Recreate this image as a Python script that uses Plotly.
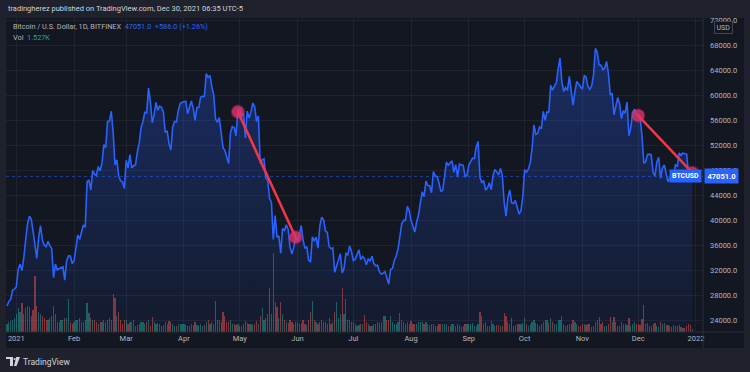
import pandas as pd
import plotly.graph_objects as go

# ---------------- data (daily close, BTC/USD Bitfinex) ----------------
close_dec2020 = [26280, 27040, 27370, 28860, 28990]
close_jan = [29370, 32180, 33000, 31990, 33990, 36820, 39370, 40680, 40240, 38230, 35540, 33920, 37330, 39150, 36830,
             36030, 35800, 36640, 35920, 35490, 30830, 32990, 32090, 32290, 32370, 32570, 30430, 33460, 34320, 34290, 33110]
close_feb = [33540, 35510, 37670, 36950, 38290, 39260, 38900, 46200, 46480, 44870, 47970, 47410, 47190, 48650, 47930,
             49170, 52150, 51680, 55890, 55920, 57490, 54090, 48880, 49710, 47090, 46340, 46190, 45140]
close_mar = [49630, 48380, 50540, 48420, 48760, 48880, 50970, 52380, 54880, 55850, 57330, 57230, 61190, 59000, 55640,
             56920, 58920, 57650, 58320, 58140, 57350, 54090, 54340, 52300, 51290, 55030, 55860, 55780, 57630, 58730, 58920]
close_apr = [58980, 59100, 57090, 58210, 59130, 57990, 56020, 58090, 58100, 59780, 59900, 59880, 63530, 62910, 63220,
             61370, 60110, 56250, 55720, 56480, 53810, 51700, 51190, 50110, 49100, 54060, 55040, 54840, 53560, 57750]
close_may = [57830, 56630, 57220, 53210, 57510, 56400, 57350, 58810, 58230, 55860, 56710, 49150, 49720, 49880, 46760,
             46430, 43540, 42910, 36960, 40780, 37300, 37530, 34770, 38700, 38400, 39290, 38530, 35680, 34630, 35680, 37340]
close_jun = [36690, 37570, 39190, 36870, 35520, 35800, 33580, 33400, 37390, 36690, 37340, 35550, 39100, 40520, 40140,
             38350, 38090, 35820, 35480, 35600, 31680, 32510, 33680, 34660, 31590, 32280, 34700, 34490, 35910, 35040]
close_jul = [33570, 33800, 34670, 35290, 33720, 34230, 33860, 32880, 33810, 33520, 34260, 33090, 32730, 32820, 31780,
             31420, 31520, 31780, 30840, 29790, 32140, 32300, 33590, 34290, 35390, 37270, 39460, 40030, 40010, 42240, 41630]
close_aug = [39970, 39200, 38150, 39750, 40870, 42820, 44610, 43790, 46290, 45600, 45560, 44430, 47830, 47100, 47050,
             45990, 44690, 44800, 46720, 49340, 48870, 49280, 49540, 47700, 48940, 46960, 49060, 48900, 48830, 47050, 47160]
close_sep = [48850, 49300, 49940, 49940, 51770, 52660, 46860, 46080, 46400, 44850, 45170, 46030, 44950, 47100, 48150,
             47780, 47300, 48310, 47260, 42970, 40690, 43570, 44900, 42840, 42720, 43210, 42240, 41030, 41520, 43790]
close_oct = [48140, 47700, 48200, 49220, 51470, 55320, 53800, 53930, 54960, 54690, 57480, 56040, 57400, 57370, 61670,
             60880, 61530, 62010, 64280, 66000, 62210, 60690, 61290, 60850, 63080, 60330, 58460, 60590, 62280, 61880, 61320]
close_nov = [61000, 63230, 62940, 61450, 61010, 61540, 63310, 67550, 66940, 64930, 64860, 64160, 64380, 65470, 63560,
             60110, 60370, 56900, 58120, 59700, 58700, 56290, 57570, 57180, 58960, 53590, 54810, 57290, 57810, 56990]
close_dec = [56950, 56500, 53600, 49150, 49400, 50580, 50620, 50500, 47670, 47160, 49330, 50100, 46740, 48380, 48900,
             47640, 46200, 46850, 46700, 46900, 48970, 48600, 50820, 50430, 50810, 50690, 50640, 47540, 46465, 47051]

# daily volume (thousand BTC)
vol_dec2020 = [4, 5, 5.5, 6, 7]
vol_jan = [9, 12, 10, 14.5, 9, 12, 13, 12.5, 8, 11, 28, 13, 10, 9, 8, 7, 6, 6, 7, 8, 13, 9, 5, 5, 6, 6, 7, 7, 16.5, 5, 4]
vol_feb = [5, 6, 6, 7, 5, 5, 6, 14.5, 9.5, 7, 6, 6, 5, 4, 5, 5, 6, 5, 6, 7, 6, 19, 17, 8, 10, 6, 4, 6]
vol_mar = [6, 4, 5, 5, 6, 3, 3.5, 4, 5, 5, 4, 5, 6, 3, 7.5, 5, 4, 4.5, 4, 3, 3.5, 5, 4, 5.5, 5, 4, 3, 3, 4, 4, 4]
vol_apr = [4, 3.5, 3, 3, 4, 3.5, 5, 3.5, 3, 4, 3, 3.5, 5, 6, 4, 5, 4, 15.5, 6, 6, 5, 10, 8, 5, 5, 6, 4, 4, 3.5, 4]
vol_may = [3, 3, 4, 5.5, 4.5, 4, 4, 3.5, 4, 5.5, 4, 8, 12, 6, 7, 9, 22, 9, 39.5, 15, 12.5, 7, 15, 9, 6, 5, 4.5, 6, 5, 4, 5]
vol_jun = [5, 4, 4.5, 6, 4, 3.5, 6, 10, 15.5, 6, 5, 4, 5, 6, 5, 5, 4, 7, 4, 5, 10, 15, 7, 9, 22, 9, 16.5, 6, 6, 5]
vol_jul = [5, 4, 3, 3.5, 4, 4, 8.5, 5, 4, 3, 3, 4, 4, 5, 4.5, 5, 8, 8, 6, 6, 8, 5, 4, 4, 5, 9.5, 6, 5, 4, 5, 4]
vol_aug = [5.5, 4, 4, 4, 5, 5, 5, 4, 5, 4, 3.5, 4, 4, 3, 3, 4, 4, 4, 4, 4, 3, 3, 4, 4, 3, 4, 3.5, 2.5, 3, 4, 4]
vol_sep = [4, 4, 4.5, 3, 3, 4, 10, 8, 4, 5, 3, 3, 5.5, 4, 3, 3.5, 3.5, 3, 3, 9.5, 8, 5, 4, 7, 3, 3.5, 4, 4, 4, 4.5]
vol_oct = [7, 4, 3, 4, 5, 6, 4.5, 4, 3, 4, 5, 6, 6, 4.5, 7, 5, 4, 4, 6, 6, 8, 4, 3, 3.5, 4, 4, 6, 5, 4, 3, 3]
vol_nov = [4, 4, 3.5, 4, 4, 2.5, 3, 5, 6, 7.5, 4, 5, 3, 3, 4, 7.5, 5, 7.5, 5, 3, 3, 5, 4, 4, 3.5, 7, 3, 4, 5, 4]
vol_dec = [4, 3.5, 6.5, 13.5, 4, 4.5, 3, 3, 4, 4.5, 3, 2.5, 5, 4, 4.5, 3.5, 3.5, 3, 2.5, 3.5, 3, 3, 3.5, 2.5, 2, 2,
           3, 4, 3.5, 1.527]

# trend-line drawing (two segments)
trend_dates = ["2021-04-30", "2021-05-31", "2021-12-01", "2021-12-30"]
trend_prices = [57400, 37300, 56800, 47650]

last_price = 47051.0
price_ticks = list(range(24000, 72001, 4000))
time_tick_dates = ["2021-01-01", "2021-02-01", "2021-03-01", "2021-04-01", "2021-05-01", "2021-06-01", "2021-07-01",
                   "2021-08-01", "2021-09-01", "2021-10-01", "2021-11-01", "2021-12-01", "2022-01-01"]
time_tick_labels = ["2021", "Feb", "Mar", "Apr", "May", "Jun", "Jul", "Aug", "Sep", "Oct", "Nov", "Dec", "2022"]

close = (close_dec2020 + close_jan + close_feb + close_mar + close_apr + close_may + close_jun + close_jul +
         close_aug + close_sep + close_oct + close_nov + close_dec)
volume = (vol_dec2020 + vol_jan + vol_feb + vol_mar + vol_apr + vol_may + vol_jun + vol_jul + vol_aug + vol_sep +
          vol_oct + vol_nov + vol_dec)
dates = pd.date_range("2020-12-27", periods=len(close), freq="D")
assert len(volume) == len(close)

UP = "rgba(38,166,154,0.5)"
DN = "rgba(239,83,80,0.5)"
vol_colors = [UP if i == 0 or close[i] >= close[i - 1] else DN for i in range(len(close))]

# ---------------- layout helpers (pixel -> paper) ----------------
W, H = 750, 372
PL, PR, PT, PB = 6, 703, 18, 332


def px(x):
    return (x - PL) / (PR - PL)


def py(y):
    return (PB - y) / (PB - PT)


FONT = "Roboto, 'Open Sans', sans-serif"
TXT = "#b2b5be"
BLUE = "#2962ff"

fig = go.Figure()

fig.add_trace(go.Bar(x=dates, y=volume, marker=dict(color=vol_colors, line=dict(width=0)),
                     width=0.65 * 86400000, yaxis="y2", hoverinfo="skip"))

fig.add_trace(go.Scatter(
    x=dates, y=close, mode="lines", line=dict(color=BLUE, width=1.6),
    fill="tozeroy",
    fillgradient=dict(type="vertical", start=22000, stop=68000,
                      colorscale=[[0, "rgba(41,98,255,0.05)"], [1, "rgba(41,98,255,0.30)"]]),
    hoverinfo="skip"))

fig.add_trace(go.Scatter(
    x=[trend_dates[0], trend_dates[1], None, trend_dates[2], trend_dates[3]],
    y=[trend_prices[0], trend_prices[1], None, trend_prices[2], trend_prices[3]],
    mode="lines", line=dict(color="#f23645", width=2.6), hoverinfo="skip"))
fig.add_trace(go.Scatter(
    x=trend_dates, y=trend_prices, mode="markers",
    marker=dict(size=12, color="rgba(226,50,105,0.8)", line=dict(width=2.5, color="rgba(226,50,105,0.3)")),
    hoverinfo="skip"))

x0 = pd.Timestamp("2020-12-27") - pd.Timedelta(days=0.55)
x1 = pd.Timestamp("2020-12-27") + pd.Timedelta(days=373.8)

shapes = [
    # chart panel
    dict(type="rect", xref="paper", yref="paper", x0=px(6), x1=px(744), y0=py(348), y1=py(18),
         fillcolor="#131722", line=dict(width=0), layer="below"),
    # separators
    dict(type="line", xref="paper", yref="paper", x0=px(PR), x1=px(PR), y0=py(348), y1=py(18),
         line=dict(color="#2a2e39", width=1)),
    dict(type="line", xref="paper", yref="paper", x0=px(6), x1=px(744), y0=0, y1=0,
         line=dict(color="#2a2e39", width=1)),
    # last price dotted line
    dict(type="line", xref="paper", yref="y", x0=0, x1=1, y0=last_price, y1=last_price,
         line=dict(color="rgba(41,98,255,0.55)", width=1, dash="dot")),
    # TradingView logo
    dict(type="rect", xref="paper", yref="paper", x0=px(6), x1=px(13), y0=py(359), y1=py(357),
         fillcolor="#d1d4dc", line=dict(width=0)),
    dict(type="rect", xref="paper", yref="paper", x0=px(10), x1=px(13), y0=py(366), y1=py(357),
         fillcolor="#d1d4dc", line=dict(width=0)),
    dict(type="circle", xref="paper", yref="paper", x0=px(13.6), x1=px(15.6), y0=py(360), y1=py(358),
         fillcolor="#d1d4dc", line=dict(width=0)),
    dict(type="path", xref="paper", yref="paper",
         path=f"M {px(16.2)},{py(357)} L {px(20)},{py(357)} L {px(16.5)},{py(366)} L {px(14)},{py(366)} Z",
         fillcolor="#d1d4dc", line=dict(width=0)),
]

ann = [
    dict(x=px(6), y=py(9), text="tradingherez published on TradingView.com, Dec 30, 2021 06:35 UTC-5",
         font=dict(size=7.5, color="#d1d4dc")),
    dict(x=px(11), y=py(26),
         text=f"Bitcoin / U.S. Dollar, 1D, BITFINEX  <span style='color:{BLUE}'>47051.0  +586.0 (+1.26%)</span>",
         font=dict(size=7.3, color=TXT)),
    dict(x=px(11), y=py(37), text="Vol  <span style='color:#26a69a'>1.527K</span>",
         font=dict(size=7.3, color=TXT)),
    dict(x=px(21), y=py(361.5), text="TradingView", font=dict(size=8.5, color="#d1d4dc")),
]
for a in ann:
    a.update(xref="paper", yref="paper", xanchor="left", yanchor="middle", showarrow=False)

ann += [
    dict(xref="paper", yref="y", x=1, y=last_price, xanchor="right", yanchor="middle", showarrow=False,
         text="<b>BTCUSD</b>", font=dict(size=7, color="white"), bgcolor=BLUE, borderpad=2, xshift=-1),
    dict(xref="paper", yref="y", x=1, y=last_price, xanchor="left", yanchor="middle", showarrow=False,
         text="<b>47051.0</b>", font=dict(size=7.5, color="white"), bgcolor=BLUE, borderpad=2.5, xshift=1),
    dict(xref="paper", yref="paper", x=px(724), y=py(27), xanchor="center", yanchor="middle", showarrow=False,
         text="USD", font=dict(size=7, color=TXT), bgcolor="#131722", bordercolor="#434651", borderwidth=1,
         borderpad=1.5),
]

fig.update_layout(
    width=W, height=H,
    margin=dict(l=PL, r=W - PR, t=PT, b=H - PB),
    paper_bgcolor="#1f222c",
    plot_bgcolor="rgba(0,0,0,0)",
    showlegend=False,
    font=dict(family=FONT, color=TXT, size=7.5),
    xaxis=dict(range=[x0, x1], tickvals=time_tick_dates, ticktext=time_tick_labels, showgrid=True,
               gridcolor="rgba(42,46,57,0.55)", gridwidth=1, zeroline=False, showline=False, ticks="",
               tickfont=dict(size=7.5, color=TXT), fixedrange=True),
    yaxis=dict(range=[22126, 72430], side="right", tickvals=price_ticks, tickformat=".1f", showgrid=True,
               gridcolor="rgba(42,46,57,0.55)", gridwidth=1, zeroline=False, showline=False, ticks="",
               ticklabelstandoff=6, tickfont=dict(size=7.5, color=TXT), fixedrange=True),
    yaxis2=dict(range=[0, 157], overlaying="y", visible=False, fixedrange=True),
    bargap=0,
    shapes=shapes,
    annotations=ann,
)

fig.write_html("out.html", config={"displayModeBar": False},
               post_script="document.body.style.margin='0';document.body.style.overflow='hidden';")
